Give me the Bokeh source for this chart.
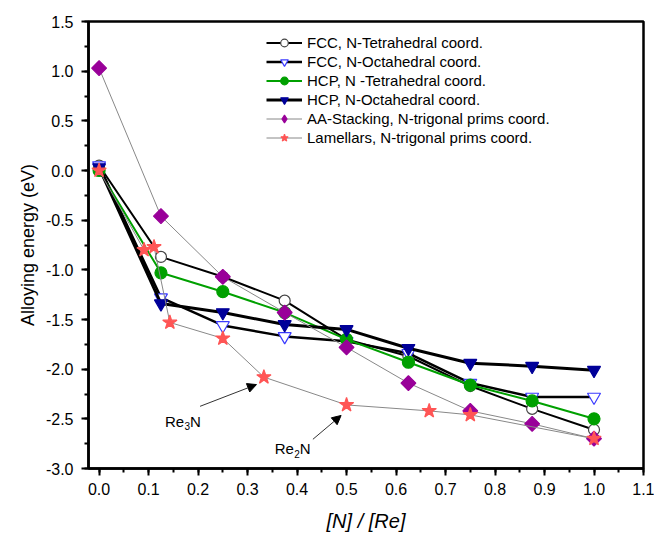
import math
from bokeh.plotting import figure
from bokeh.models import (FixedTicker, PrintfTickFormatter, Arrow, NormalHead,
                          Range1d)
from bokeh.core.properties import value
from bokeh.embed import file_html
from bokeh.resources import INLINE

# ---------------- data ----------------
x_main = [0.0, 0.125, 0.25, 0.375, 0.5, 0.625, 0.75, 0.875, 1.0]
fcc_tet = [0.05, -0.87, -1.07, -1.31, -1.70, -1.87, -2.17, -2.40, -2.61]
fcc_oct = [0.05, -1.28, -1.56, -1.67, -1.72, -1.84, -2.14, -2.28, -2.28]
hcp_tet = [0.00, -1.03, -1.22, -1.43, -1.70, -1.93, -2.16, -2.32, -2.50]
hcp_oct = [0.03, -1.34, -1.43, -1.55, -1.60, -1.79, -1.94, -1.97, -2.01]
aa_stack = [1.03, -0.46, -1.07, -1.43, -1.78, -2.14, -2.42, -2.55, -2.70]
x_lam = [0.0, 0.0909, 0.111, 0.143, 0.25, 0.333, 0.5, 0.667, 0.75, 1.0]
lamellar = [0.00, -0.80, -0.77, -1.53, -1.69, -2.08, -2.36, -2.42, -2.46, -2.70]

x_ticks = [0.0, 0.1, 0.2, 0.3, 0.4, 0.5, 0.6, 0.7, 0.8, 0.9, 1.0, 1.1]
y_ticks = [-3.0, -2.5, -2.0, -1.5, -1.0, -0.5, 0.0, 0.5, 1.0, 1.5]

labels = ["FCC, N-Tetrahedral coord.",
          "FCC, N-Octahedral coord.",
          "HCP, N -Tetrahedral coord.",
          "HCP, N-Octahedral coord.",
          "AA-Stacking, N-trigonal prims coord.",
          "Lamellars, N-trigonal prims coord."]

# annotations: (text parts, left x, baseline y) and arrows (x0, y0, x1, y1)
ann_re3n = ("Re", "3", "N", 0.133, -2.525)
ann_re2n = ("Re", "2", "N", 0.355, -2.80)
arrow_re3n = (0.204, -2.374, 0.318, -2.155)
arrow_re2n = (0.432, -2.706, 0.489, -2.466)

FONT = "Liberation Sans"

p = figure(width=654, height=536, output_backend="svg", toolbar_location=None,
           x_range=Range1d(-0.0214, 1.1), y_range=Range1d(-3.0, 1.5),
           min_border_left=88, min_border_right=11, min_border_top=21,
           min_border_bottom=68)
p.background_fill_color = "white"
p.border_fill_color = "white"
p.outline_line_color = "black"
p.outline_line_width = 2.5
p.xgrid.visible = False
p.ygrid.visible = False

series = [
    (x_main, fcc_tet, "black", 2.0, "circle", "white", "#444444", 11, 0),
    (x_main, fcc_oct, "black", 2.5, "inverted_triangle", "white", "#3b3bff", 13, 0),
    (x_main, hcp_tet, "#00a000", 2.0, "circle", "#00a000", "#00a000", 12, 0),
    (x_main, hcp_oct, "black", 3.0, "inverted_triangle", "#000099", "#000099", 13, 0),
    (x_main, aa_stack, "#888888", 1.0, "square", "#990099", "#990099", 10.5, math.pi / 4),
    (x_lam, lamellar, "#888888", 1.0, "star", "#ff5555", "#ff5555", 15, 0),
]

for (xs, ys, lc, lw, mk, fc, mc, sz, ang), lab in zip(series, labels):
    p.line(xs, ys, line_color=lc, line_width=lw, legend_label=lab)
    if ang:
        # rotated square on the plot; legend gets a non-drawn diamond proxy
        p.scatter(xs, ys, marker=mk, size=sz, angle=ang, fill_color=fc,
                  line_color=mc, line_width=1.2)
        p.scatter([float("nan")], [float("nan")], marker="diamond", size=17,
                  fill_color=fc, line_color=mc, line_width=1.2, legend_label=lab)
    else:
        p.scatter(xs, ys, marker=mk, size=sz, fill_color=fc, line_color=mc,
                  line_width=1.2, legend_label=lab)

# annotations
for (a, sub, b, x0, y0) in (ann_re3n, ann_re2n):
    p.text([x0], [y0], text=[a], text_font=value(FONT), text_font_size="15px",
           text_baseline="alphabetic", text_align="left", text_color="black")
    p.text([x0], [y0], text=[sub], text_font=value(FONT), text_font_size="10px",
           text_baseline="alphabetic", text_align="left", text_color="black",
           x_offset=19.5, y_offset=5)
    p.text([x0], [y0], text=[b], text_font=value(FONT), text_font_size="15px",
           text_baseline="alphabetic", text_align="left", text_color="black",
           x_offset=25)

for (x0, y0, x1, y1) in (arrow_re3n, arrow_re2n):
    p.add_layout(Arrow(end=NormalHead(size=9, fill_color="black", line_color="black"),
                       x_start=x0, y_start=y0, x_end=x1, y_end=y1,
                       line_color="#333333", line_width=1))

# axes
for ax in (p.xaxis[0], p.yaxis[0]):
    ax.axis_line_width = 2.5
    ax.major_tick_line_width = 2
    ax.minor_tick_line_width = 2
    ax.major_tick_out = 7
    ax.major_tick_in = 0
    ax.minor_tick_out = 4
    ax.minor_tick_in = 0
    ax.major_label_text_font = FONT
    ax.major_label_text_font_size = "16px"
    ax.major_label_text_color = "black"
    ax.axis_label_text_font = FONT
    ax.axis_label_text_color = "black"
    ax.formatter = PrintfTickFormatter(format="%.1f")

p.xaxis[0].ticker = FixedTicker(ticks=x_ticks,
                                minor_ticks=[round(0.05 * i, 3) for i in range(-1, 23)])
p.yaxis[0].ticker = FixedTicker(ticks=y_ticks,
                                minor_ticks=[round(-3.0 + 0.25 * i, 3) for i in range(19)])
p.xaxis[0].axis_label = "[N] / [Re]"
p.xaxis[0].axis_label_text_font_style = "italic"
p.xaxis[0].axis_label_text_font_size = "20px"
p.xaxis[0].major_label_standoff = 7
p.xaxis[0].axis_label_standoff = 12
p.yaxis[0].axis_label = "Alloying energy (eV)"
p.yaxis[0].axis_label_text_font_style = "normal"
p.yaxis[0].axis_label_text_font_size = "18px"
p.yaxis[0].major_label_standoff = 8
p.yaxis[0].axis_label_standoff = 5

leg = p.legend[0]
leg.location = (178, 321)
leg.padding = 0
leg.margin = 0
leg.spacing = 0
leg.glyph_width = 36
leg.glyph_height = 19
leg.label_height = 19
leg.label_standoff = 5
leg.label_text_font = FONT
leg.label_text_font_size = "15px"
leg.label_text_color = "black"
leg.background_fill_alpha = 0
leg.border_line_alpha = 0

open("out.html", "w").write(file_html(p, INLINE))
